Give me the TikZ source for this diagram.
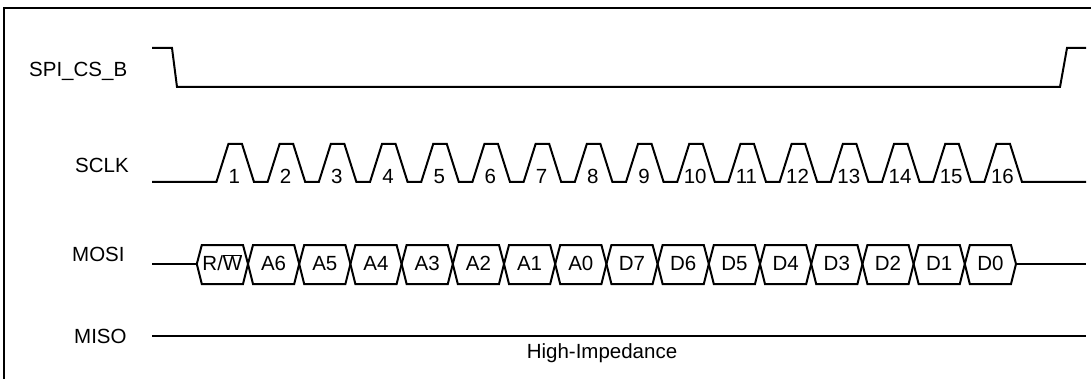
\documentclass[tikz,border=0pt]{standalone}
\usepackage{fontspec}
\setmainfont{Liberation Sans}
\begin{document}
\begin{tikzpicture}[x=1pt,y=-1pt,
  sig/.style={line width=2pt, line join=miter},
  frame/.style={line width=2.2pt},
  lbl/.style={font=\fontsize{20.5}{24}\selectfont, inner sep=0pt},
  sname/.style={lbl, anchor=base west}]
\useasboundingbox (0,0) rectangle (1091,379);
% frame (left and top edges)
\draw[frame] (4,381) -- (4,8) -- (1093,8);
% signal names
\node[sname] (ncs)   at (29,76.7)  {SPI\_CS\_B};
\node[sname] (nclk)  at (75,172.7) {SCLK};
\node[sname] (nmosi) at (72,261.7) {MOSI};
\node[sname] (nmiso) at (74,343)   {MISO};
% chip select
\draw[sig] (152,48) -- (172,48) -- (177,87) -- (1060,87) -- (1067,48) -- (1086,48);
% clock
\draw[sig] (152,182) foreach \k in {0,...,15} {
   -- ({216.4+51.2*\k},182) -- ({228.4+51.2*\k},144)
   -- ({242+51.2*\k},144) -- ({254+51.2*\k},182) } -- (1086,182);
\foreach \k [evaluate=\k as \n using int(\k+1)] in {0,...,15}
  \node[lbl, anchor=base] (c\n) at ({234.4+51.2*\k},183.3) {\n};
% MOSI data
\draw[sig] (152,264) -- (196.8,264);
\draw[sig] (1016,264) -- (1086,264);
\foreach \k in {0,...,15} {
  \draw[sig] ({196.8+51.2*\k},264) -- ({201.8+51.2*\k},245) -- ({243+51.2*\k},245)
     -- ({248+51.2*\k},264) -- ({243+51.2*\k},284) -- ({201.8+51.2*\k},284) -- cycle;
}
\foreach \t [count=\i from 0] in {{R/$\overline{\mbox{W}}$},A6,A5,A4,A3,A2,A1,A0,D7,D6,D5,D4,D3,D2,D1,D0}
  \node[lbl, anchor=base] (d\i) at ({222.4+51.2*\i},270.7) {\t};
% MISO
\draw[sig] (152,336) -- (1086,336);
\node[lbl, anchor=base] (hiz) at (602,358.5) {High-Impedance};
\end{tikzpicture}
\end{document}
